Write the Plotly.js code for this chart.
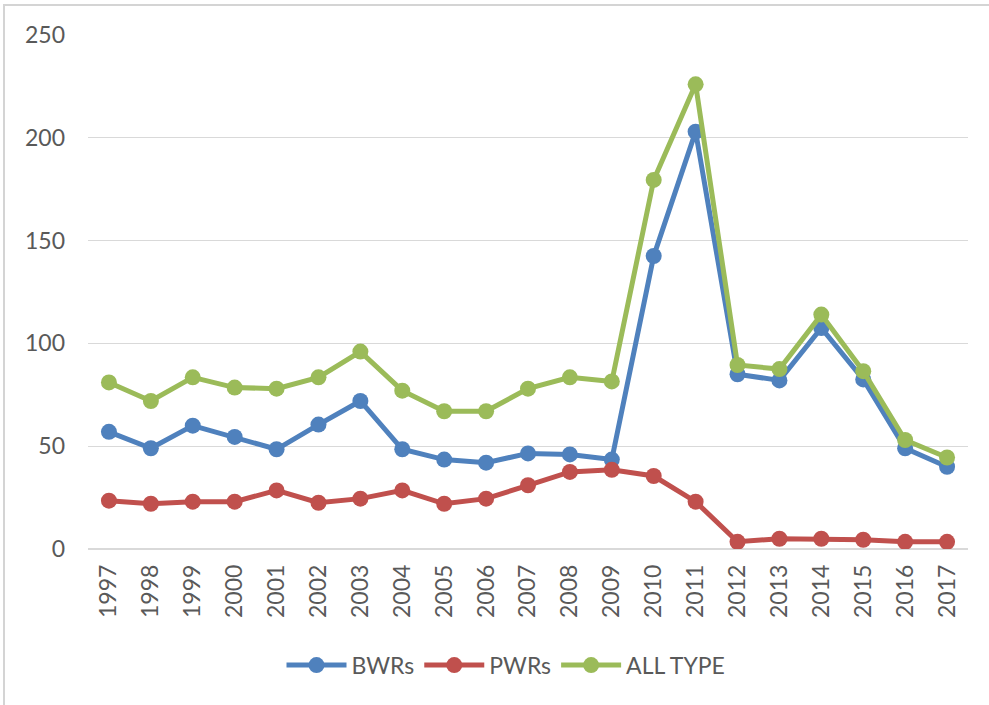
<!DOCTYPE html>
<html>
<head>
<meta charset="utf-8">
<script src="https://cdn.plot.ly/plotly-3.0.1.min.js"></script>
<style>
  html, body { margin: 0; padding: 0; background: #ffffff; }
  #wrap { position: relative; width: 989px; height: 705px; overflow: hidden; }
  #chart { position: absolute; left: 0; top: 0; width: 989px; height: 705px; }
  #frame { position: absolute; left: 3px; top: 4px; width: 1000px; height: 1000px;
           border-top: 2px solid #d4d4d4; border-left: 2px solid #d4d4d4; pointer-events: none; }
</style>
</head>
<body>
<div id="wrap">
  <div id="chart"></div>
  <div id="frame"></div>
</div>
<script>
const years = ["1997","1998","1999","2000","2001","2002","2003","2004","2005","2006","2007",
               "2008","2009","2010","2011","2012","2013","2014","2015","2016","2017"];
const bwrs = [57, 49, 60, 54.5, 48.5, 60.5, 72, 48.5, 43.5, 42, 46.5,
              46, 43.5, 142.5, 203, 85, 82, 107.5, 82.5, 49, 40];
const pwrs = [23.5, 22, 23, 23, 28.5, 22.5, 24.5, 28.5, 22, 24.5, 31,
              37.5, 38.5, 35.5, 23, 3.5, 5, 5, 4.5, 3.5, 3.5];
const allType = [81, 72, 83.5, 78.5, 78, 83.5, 96, 77, 67, 67, 78,
                 83.5, 81.5, 179.5, 226, 89.5, 87.5, 114, 86.5, 53, 44.5];
const yTicks = [0, 50, 100, 150, 200, 250];

function series(name, values, color) {
  return {
    type: 'scatter', mode: 'lines+markers', name: name,
    x: years, y: values,
    line: { color: color, width: 5 },
    marker: { color: color, size: 16 }
  };
}

const data = [
  series('BWRs', bwrs, '#4F81BD'),
  series('PWRs', pwrs, '#C0504D'),
  series('ALL TYPE', allType, '#9BBB59')
];

const font = { family: 'Lato, "Open Sans", sans-serif', size: 23, color: '#595959' };

const layout = {
  width: 989, height: 705,
  margin: { l: 88, r: 21, t: 35, b: 156, pad: 0 },
  paper_bgcolor: '#ffffff', plot_bgcolor: '#ffffff',
  font: font,
  showlegend: true,
  legend: {
    orientation: 'h', x: 0.475, xanchor: 'center', y: -0.226, yanchor: 'middle',
    font: font, itemwidth: 60, tracegroupgap: 0
  },
  xaxis: {
    type: 'category', range: [-0.5, years.length - 0.5], tickangle: -90,
    showgrid: false, zeroline: false,
    showline: false, ticks: '', tickfont: font, ticklabelstandoff: 10
  },
  yaxis: {
    range: [0, 250], tickvals: yTicks, ticktext: yTicks.map(String),
    showgrid: true, gridcolor: '#d9d9d9', gridwidth: 1.3,
    zeroline: true, zerolinecolor: '#d9d9d9', zerolinewidth: 1.3,
    showline: false, ticks: '', tickfont: font, ticklabelstandoff: 22
  }
};

Plotly.newPlot('chart', data, layout, { displayModeBar: false, staticPlot: true });
</script>
</body>
</html>
